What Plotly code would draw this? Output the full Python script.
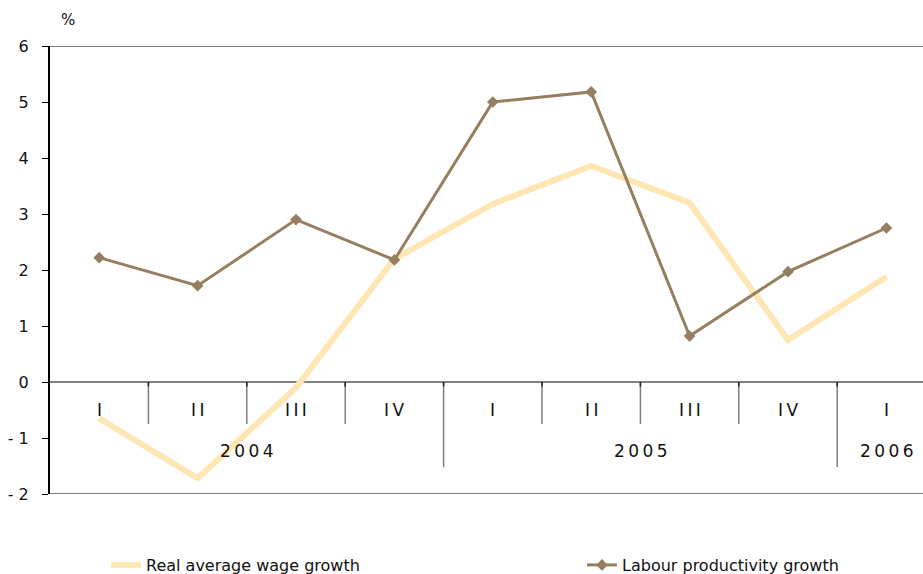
import plotly.graph_objects as go

quarters = ["I", "II", "III", "IV", "I", "II", "III", "IV", "I"]
years = ["2004", "2005", "2006"]
year_spans = [(0, 3), (4, 7), (8, 8)]  # first and last quarter index per year

wage_growth = [-0.65, -1.72, -0.10, 2.20, 3.18, 3.86, 3.20, 0.75, 1.88]
productivity_growth = [2.22, 1.72, 2.90, 2.18, 5.00, 5.18, 0.82, 1.97, 2.75]

y_ticks = [-2, -1, 0, 1, 2, 3, 4, 5, 6]

x = list(range(len(quarters)))
FONT = "DejaVu Sans"
spaced = lambda s: "\u2009".join(s)

W, H = 923, 574
PLOT_W, PLOT_H = 873, 448

fig = go.Figure()
fig.add_trace(go.Scatter(
    x=x, y=wage_growth, mode="lines", name="Real average wage growth",
    line=dict(color="#FFE6B5", width=6), legend="legend",
))
fig.add_trace(go.Scatter(
    x=x, y=productivity_growth, mode="lines+markers", name="Labour productivity growth",
    line=dict(color="#967F60", width=3),
    marker=dict(symbol="diamond", size=9, color="#967F60"), legend="legend2",
))

shapes = []
# frame lines: top border and bottom of the value range
for yv in (6, -2):
    shapes.append(dict(type="line", xref="paper", yref="y", x0=0, x1=1, y0=yv, y1=yv,
                       line=dict(color="#808080", width=2)))
# quarter separators and year separators below the zero line
year_bounds = {s[0] - 0.5 for s in year_spans[1:]}
for i in range(1, len(quarters)):
    b = i - 0.5
    depth = -1.52 if b in year_bounds else -0.75
    shapes.append(dict(type="line", xref="x", yref="y", x0=b, x1=b, y0=0, y1=depth,
                       line=dict(color="#808080", width=1.5)))
    shapes.append(dict(type="line", xref="x", yref="y", x0=b, x1=b, y0=0, y1=-0.08,
                       line=dict(color="#202020", width=1.5)))

annotations = []
for i, q in enumerate(quarters):
    annotations.append(dict(x=i, y=-0.5, xref="x", yref="y", text=spaced(q), showarrow=False,
                            font=dict(family=FONT, size=17, color="#111111")))
for yr, (a, b) in zip(years, year_spans):
    annotations.append(dict(x=(a + b) / 2, y=-1.24, xref="x", yref="y", text=spaced(yr),
                            showarrow=False, font=dict(family=FONT, size=17, color="#111111")))
annotations.append(dict(x=18 / PLOT_W, y=1 + 26 / PLOT_H, xref="paper", yref="paper",
                        text="%", showarrow=False, xanchor="center", yanchor="middle",
                        font=dict(family=FONT, size=15, color="#111111")))

legend_common = dict(orientation="h", xref="container", yref="container",
                     yanchor="middle", y=1 - 565 / H, xanchor="left",
                     bgcolor="rgba(0,0,0,0)",
                     font=dict(family=FONT, size=16, color="#111111"))

fig.update_layout(
    width=W, height=H,
    margin=dict(l=50, r=0, t=46, b=80),
    paper_bgcolor="white", plot_bgcolor="white",
    showlegend=True,
    legend=dict(x=106 / W, **legend_common),
    legend2=dict(x=582 / W, **legend_common),
    xaxis=dict(range=[-0.5, 8.372], showticklabels=False, showgrid=False, zeroline=False,
               showline=False, ticks=""),
    yaxis=dict(range=[-2, 6], tickvals=y_ticks,
               ticktext=[("- " + str(-v)) if v < 0 else str(v) for v in y_ticks],
               showgrid=False, zeroline=True, zerolinecolor="#808080", zerolinewidth=2,
               showline=True, linecolor="black", linewidth=2,
               ticks="outside", ticklen=6, tickcolor="black", tickwidth=1,
               ticklabelstandoff=10,
               tickfont=dict(family=FONT, size=16, color="#111111")),
    shapes=shapes,
    annotations=annotations,
)

fig.write_html("out.html")
